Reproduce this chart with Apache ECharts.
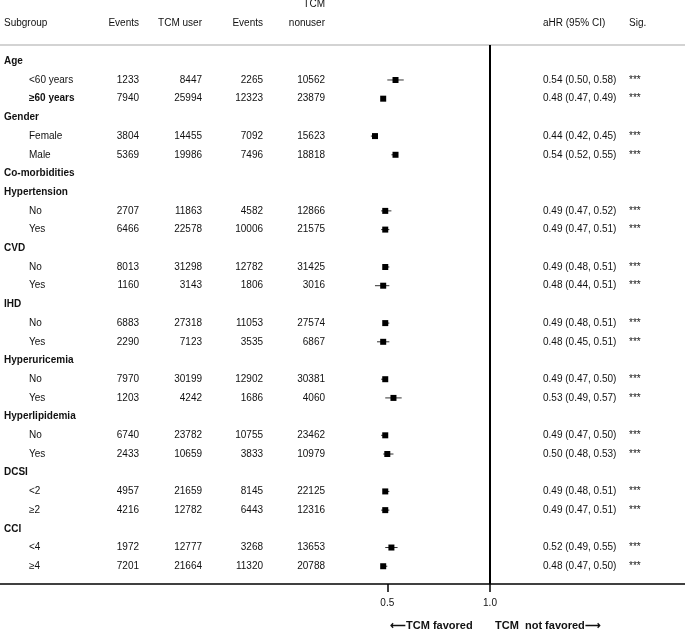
<!DOCTYPE html>
<html>
<head>
<meta charset="utf-8">
<script src="https://cdn.jsdelivr.net/npm/echarts@6/dist/echarts.min.js"></script>
<style>
  html, body { margin: 0; padding: 0; background: #fff; }
  #forest_chart { width: 685px; height: 631px; }
</style>
</head>
<body>
<div id="forest_chart"></div>
<script>
// 亚组名称（null 的行为分组标题）
const subgroups = ['Age', '<60 years', '≥60 years', 'Gender', 'Female', 'Male', 'Co-morbidities',
  'Hypertension', 'No', 'Yes', 'CVD', 'No', 'Yes', 'IHD', 'No', 'Yes',
  'Hyperuricemia', 'No', 'Yes', 'Hyperlipidemia', 'No', 'Yes', 'DCSI', '<2', '≥2', 'CCI', '<4', '≥4']
const userEvents = [null, 1233, 7940, null, 3804, 5369, null, null, 2707, 6466, null, 8013, 1160, null, 6883, 2290,
  null, 7970, 1203, null, 6740, 2433, null, 4957, 4216, null, 1972, 7201]
const userTotal = [null, 8447, 25994, null, 14455, 19986, null, null, 11863, 22578, null, 31298, 3143, null, 27318, 7123,
  null, 30199, 4242, null, 23782, 10659, null, 21659, 12782, null, 12777, 21664]
const nonuserEvents = [null, 2265, 12323, null, 7092, 7496, null, null, 4582, 10006, null, 12782, 1806, null, 11053, 3535,
  null, 12902, 1686, null, 10755, 3833, null, 8145, 6443, null, 3268, 11320]
const nonuserTotal = [null, 10562, 23879, null, 15623, 18818, null, null, 12866, 21575, null, 31425, 3016, null, 27574, 6867,
  null, 30381, 4060, null, 23462, 10979, null, 22125, 12316, null, 13653, 20788]
const aHR = [null, 0.54, 0.48, null, 0.44, 0.54, null, null, 0.49, 0.49, null, 0.49, 0.48, null, 0.49, 0.48,
  null, 0.49, 0.53, null, 0.49, 0.50, null, 0.49, 0.49, null, 0.52, 0.48]
const ciLow = [null, 0.50, 0.47, null, 0.42, 0.52, null, null, 0.47, 0.47, null, 0.48, 0.44, null, 0.48, 0.45,
  null, 0.47, 0.49, null, 0.47, 0.48, null, 0.48, 0.47, null, 0.49, 0.47]
const ciHigh = [null, 0.58, 0.49, null, 0.45, 0.55, null, null, 0.52, 0.51, null, 0.51, 0.51, null, 0.51, 0.51,
  null, 0.50, 0.57, null, 0.50, 0.53, null, 0.51, 0.51, null, 0.55, 0.50]
const sigMarks = [null, '***', '***', null, '***', '***', null, null, '***', '***', null, '***', '***', null, '***', '***',
  null, '***', '***', null, '***', '***', null, '***', '***', null, '***', '***']
const xTicks = [0.5, 1.0]
const refValue = 1.0

const FONT = "'Liberation Sans', Arial, Helvetica, sans-serif"
const TEXT_COLOR = '#111'

// 表格列位置
const colSub = 4
const colSubIndent = 29
const colEv1 = 139
const colTot1 = 202
const colEv2 = 263
const colTot2 = 325
const colHR = 543
const colSig = 629

const fmt = v => v.toFixed(2)

function txt (x, y, text, align, bold, size) {
  return {
    type: 'text',
    x: x,
    y: y,
    style: {
      text: text,
      fill: TEXT_COLOR,
      font: (bold ? 'bold ' : '') + (size || 10) + 'px ' + FONT,
      align: align,
      verticalAlign: 'middle'
    }
  }
}

// 森林图数据
const forestData = []
aHR.forEach((v, i) => {
  if (v !== null) forestData.push([v, ciLow[i], ciHigh[i], i])
})

const myChart = echarts.init(document.getElementById('forest_chart'))
myChart.setOption({
  animation: false,
  grid: { left: 0, right: 0, top: 45, bottom: 47 },
  xAxis: [
    {
      type: 'value',
      position: 'bottom',
      min: -1.3856,
      max: 1.9494,
      splitLine: { show: false },
      axisLine: { show: true, onZero: false, lineStyle: { color: '#000', width: 1.5 } },
      axisTick: { show: true, length: 8, lineStyle: { color: '#000', width: 1.5 }, customValues: xTicks },
      axisLabel: {
        customValues: xTicks,
        margin: 14,
        color: TEXT_COLOR,
        fontSize: 10,
        fontFamily: FONT,
        formatter: v => v.toFixed(1)
      }
    },
    {
      type: 'value',
      position: 'top',
      min: -1.3856,
      max: 1.9494,
      splitLine: { show: false },
      axisLine: { show: true, onZero: false, lineStyle: { color: '#c4c4c4', width: 1.5 } },
      axisTick: { show: false },
      axisLabel: { show: false }
    }
  ],
  yAxis: {
    type: 'value',
    inverse: true,
    min: -0.87,
    max: 27.95,
    show: false
  },
  graphic: [
    txt(colSub, 23, 'Subgroup', 'left'),
    txt(colEv1, 23, 'Events', 'right'),
    txt(colTot1, 23, 'TCM user', 'right'),
    txt(colEv2, 23, 'Events', 'right'),
    txt(colTot2, 4, 'TCM', 'right'),
    txt(colTot2, 23, 'nonuser', 'right'),
    txt(colHR, 23, 'aHR (95% CI)', 'left'),
    txt(colSig, 23, 'Sig.', 'left'),
    txt(390, 626, '⟵TCM favored', 'left', true, 11),
    txt(495, 626, 'TCM  not favored⟶', 'left', true, 11)
  ],
  series: [
    {
      // 表格文字
      type: 'custom',
      silent: true,
      clip: false,
      data: subgroups.map((s, i) => [0, i]),
      encode: { x: 0, y: 1 },
      renderItem (params, api) {
        const i = params.dataIndex
        const y = api.coord([0, api.value(1)])[1]
        if (userEvents[i] === null) {
          return { type: 'group', children: [txt(colSub, y, subgroups[i], 'left', true)] }
        }
        const bold = subgroups[i] === '≥60 years'
        return {
          type: 'group',
          children: [
            txt(colSubIndent, y, subgroups[i], 'left', bold),
            txt(colEv1, y, String(userEvents[i]), 'right'),
            txt(colTot1, y, String(userTotal[i]), 'right'),
            txt(colEv2, y, String(nonuserEvents[i]), 'right'),
            txt(colTot2, y, String(nonuserTotal[i]), 'right'),
            txt(colHR, y, fmt(aHR[i]) + ' (' + fmt(ciLow[i]) + ', ' + fmt(ciHigh[i]) + ')', 'left'),
            txt(colSig, y, sigMarks[i], 'left')
          ]
        }
      }
    },
    {
      // 森林图
      type: 'custom',
      silent: true,
      data: forestData,
      encode: { x: [0, 1, 2], y: 3 },
      renderItem (params, api) {
        const row = api.value(3)
        const c = api.coord([api.value(0), row])
        const lo = api.coord([api.value(1), row])
        const hi = api.coord([api.value(2), row])
        const s = 6
        return {
          type: 'group',
          children: [
            {
              type: 'line',
              shape: { x1: lo[0], y1: lo[1], x2: hi[0], y2: hi[1] },
              style: { stroke: '#333', lineWidth: 1 }
            },
            {
              type: 'rect',
              shape: { x: c[0] - s / 2, y: c[1] - s / 2, width: s, height: s },
              style: { fill: '#000' }
            }
          ]
        }
      },
      markLine: {
        silent: true,
        symbol: 'none',
        label: { show: false },
        lineStyle: { color: '#000', width: 2, type: 'solid' },
        data: [{ xAxis: refValue }]
      }
    }
  ]
})
</script>
</body>
</html>
